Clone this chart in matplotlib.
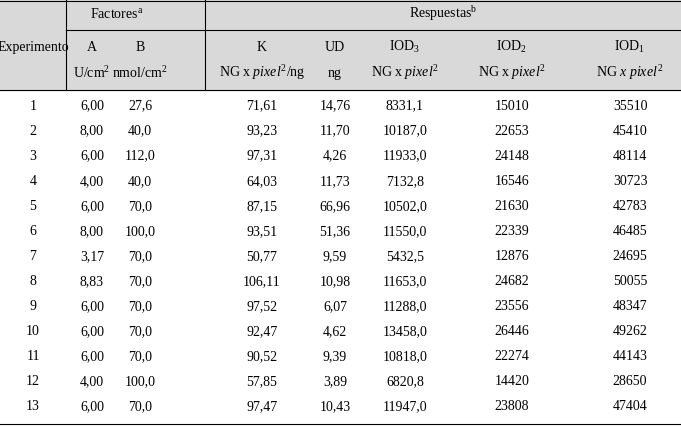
import matplotlib
matplotlib.use("Agg")
import matplotlib.pyplot as plt
from matplotlib.patches import Rectangle

plt.rcParams['font.family'] = 'Liberation Serif'
plt.rcParams['mathtext.fontset'] = 'custom'
plt.rcParams['mathtext.rm'] = 'Liberation Serif'
plt.rcParams['mathtext.it'] = 'Liberation Serif:italic'

experimento = list(range(1, 14))
A = ["6,00","8,00","6,00","4,00","6,00","8,00","3,17","8,83","6,00","6,00","6,00","4,00","6,00"]
B = ["27,6","40,0","112,0","40,0","70,0","100,0","70,0","70,0","70,0","70,0","70,0","100,0","70,0"]
K = ["71,61","93,23","97,31","64,03","87,15","93,51","50,77","106,11","97,52","92,47","90,52","57,85","97,47"]
UD = ["14,76","11,70","4,26","11,73","66,96","51,36","9,59","10,98","6,07","4,62","9,39","3,89","10,43"]
IOD3 = ["8331,1","10187,0","11933,0","7132,8","10502,0","11550,0","5432,5","11653,0","11288,0","13458,0","10818,0","6820,8","11947,0"]
IOD2 = ["15010","22653","24148","16546","21630","22339","12876","24682","23556","26446","22274","14420","23808"]
IOD1 = ["35510","45410","48114","30723","42783","46485","24695","50055","48347","49262","44143","28650","47404"]

col_x = [33, 92, 140, 262, 335, 405, 512, 630]
cols = [experimento, A, B, K, UD, IOD3, IOD2, IOD1]
names = ["A", "B", "K", "UD", r"IOD$_3$", r"IOD$_2$", r"IOD$_1$"]
units = [r"U/cm$^2$", r"nmol/cm$^2$", r"NG x $\it{pixel}^2$/ng", "ng",
         r"NG x $\it{pixel}^2$", r"NG x $\it{pixel}^2$", r"NG $\it{x}$ $\it{pixel}^2$"]

fig = plt.figure(figsize=(6.81, 4.28), dpi=100)
ax = fig.add_axes([0, 0, 1, 1])
ax.set_xlim(0, 681); ax.set_ylim(428, 0); ax.axis('off')

ax.add_patch(Rectangle((0, 0), 681, 90, color='#d9d9d9', zorder=0))
lw = 0.8
ax.plot([0, 681], [0.5, 0.5], color='k', lw=lw)
ax.plot([0, 681], [90, 90], color='k', lw=lw)
ax.plot([0, 681], [424, 424], color='k', lw=lw)
ax.plot([66, 681], [30, 30], color='k', lw=lw)
ax.plot([66, 66], [0, 90], color='k', lw=lw)
ax.plot([205, 205], [0, 90], color='k', lw=lw)

fs = 10
ax.text(33, 47, "Experimento", ha='center', va='center', fontsize=fs)
ax.text(117, 14, r"Factores$^{\mathrm{a}}$", ha='center', va='center', fontsize=fs)
ax.text(443, 14, r"Respuestas$^{\mathrm{b}}$", ha='center', va='center', fontsize=fs)
for x, n, u in zip(col_x[1:], names, units):
    ax.text(x, 47, n, ha='center', va='center', fontsize=fs)
    ax.text(x, 73, u, ha='center', va='center', fontsize=fs)

for i in range(13):
    y = 106 + i * 25.08
    for x, c in zip(col_x, cols):
        ax.text(x, y, str(c[i]), ha='center', va='center', fontsize=fs)

fig.savefig("out.png", dpi=100)
